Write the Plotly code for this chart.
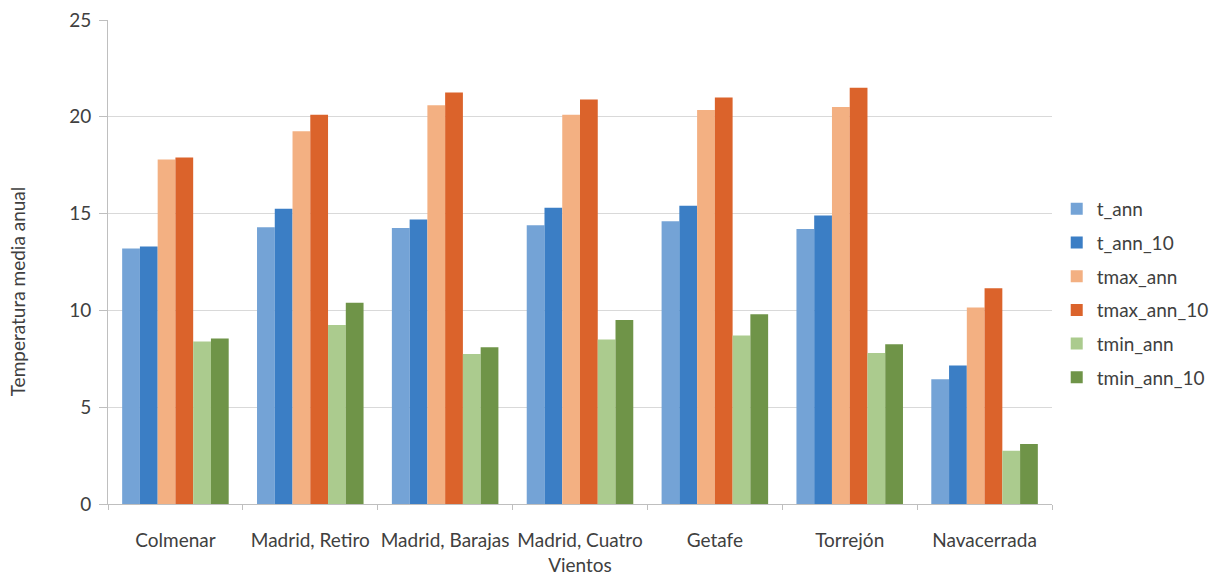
import plotly.graph_objects as go

stations = ["Colmenar", "Madrid, Retiro", "Madrid, Barajas", "Madrid, Cuatro<br>Vientos",
            "Getafe", "Torrejón", "Navacerrada"]

t_ann = [13.2, 14.3, 14.25, 14.4, 14.6, 14.2, 6.45]
t_ann_10 = [13.3, 15.25, 14.7, 15.3, 15.4, 14.9, 7.15]
tmax_ann = [17.8, 19.25, 20.6, 20.1, 20.35, 20.5, 10.15]
tmax_ann_10 = [17.9, 20.1, 21.25, 20.9, 21.0, 21.5, 11.15]
tmin_ann = [8.4, 9.25, 7.75, 8.5, 8.7, 7.8, 2.75]
tmin_ann_10 = [8.55, 10.4, 8.1, 9.5, 9.8, 8.25, 3.1]

series = [
    ("t_ann", t_ann, "#74a3d6"),
    ("t_ann_10", t_ann_10, "#3b7ec5"),
    ("tmax_ann", tmax_ann, "#f3b082"),
    ("tmax_ann_10", tmax_ann_10, "#db632b"),
    ("tmin_ann", tmin_ann, "#abcb8e"),
    ("tmin_ann_10", tmin_ann_10, "#6f9448"),
]

font_family = "Lato, Open Sans, sans-serif"
text_color = "#404040"
fsize = 19

fig = go.Figure()
for name, vals, color in series:
    fig.add_trace(go.Bar(
        x=stations, y=vals, name=name, legendgroup=name,
        marker=dict(color=color, line=dict(width=0)),
    ))

fig.update_layout(
    width=1224, height=574,
    margin=dict(l=108, r=172, t=20, b=70, autoexpand=False),
    paper_bgcolor="white", plot_bgcolor="white",
    barmode="group", bargap=0.21, bargroupgap=0,
    font=dict(family=font_family, size=fsize, color=text_color),
    showlegend=True,
    legend=dict(
        x=1.005, xanchor="left", y=0.435, yanchor="middle",
        font=dict(size=fsize, color=text_color),
        traceorder="grouped", tracegroupgap=6,
        itemwidth=30, bgcolor="rgba(0,0,0,0)",
    ),
    xaxis=dict(
        type="category", showline=True, linecolor="#bfbfbf", linewidth=1,
        ticks="outside", tickson="boundaries", ticklen=5, tickcolor="#bfbfbf",
        showgrid=False, tickfont=dict(size=fsize, color=text_color),
        tickangle=0, automargin=False, ticklabelstandoff=19,
    ),
    yaxis=dict(
        range=[0, 25], dtick=5, showgrid=True, gridcolor="#d9d9d9", gridwidth=1,
        showline=True, linecolor="#bfbfbf", linewidth=1,
        ticks="outside", ticklen=8, tickcolor="#bfbfbf",
        tickfont=dict(size=fsize, color=text_color), zeroline=False,
        automargin=False, ticklabelstandoff=4,
    ),
    annotations=[dict(
        text="Temperatura media anual", textangle=-90,
        xref="paper", yref="paper", x=-0.0956, y=0.439,
        xanchor="center", yanchor="middle", showarrow=False,
        font=dict(size=fsize, color=text_color),
    )],
)

fig.write_html("out.html")
